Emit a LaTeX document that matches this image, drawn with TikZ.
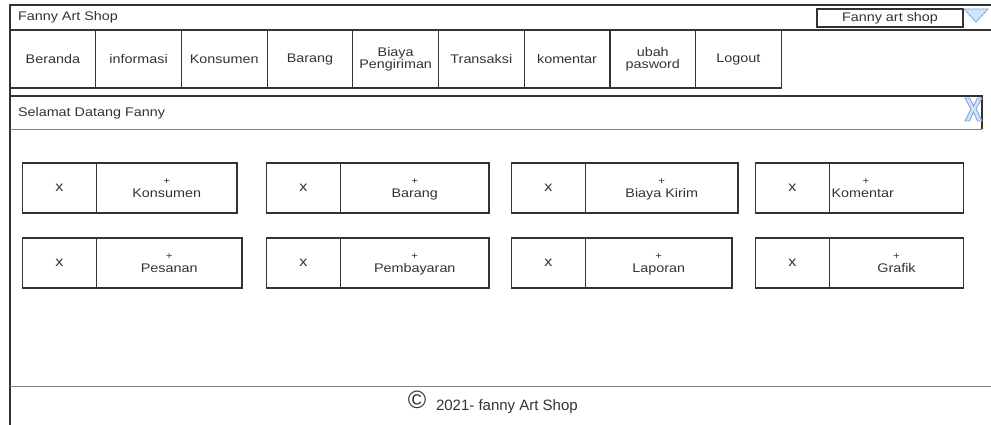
\documentclass[tikz,border=0pt]{standalone}
\usepackage{fontspec}
\setmainfont{Liberation Sans}[FakeStretch=1.15]
\newfontfamily\footfont{Liberation Sans}
\definecolor{iconfill}{HTML}{D4E4F7}
\definecolor{iconline}{HTML}{7EA6E0}

% one dashboard card: delete cell + add cell with its caption
% #1 name, #2 left x, #3 centre y, #4 width of the caption cell, #5 caption
\newcommand\uicard[5]{%
  \node[xcell, anchor=west] (#1-x) at (#2,#3) {};
  \node[xmark] (#1-m) at (#1-x.center) {x};
  \node[lcell, anchor=west, minimum width=#4pt] (#1-l) at (#1-x.east) {};
  \node[plus] (#1-p) at ([yshift=6.5pt]#1-l.center) {+};
  \node[caption] (#1-t) at ([yshift=-6.5pt]#1-l.center) {#5};
}

\begin{document}
\begin{tikzpicture}[x=1pt,y=-1pt,
  every node/.style={font=\fontsize{12.5}{12}\selectfont, text=black!80,
                     inner sep=0pt, outer sep=0pt},
  edge/.style={draw=black!80, line width=1.2pt},
  soft/.style={draw=black!50, line width=1.6pt},
  menucell/.style={edge, minimum width=85.7pt, minimum height=58pt, align=center},
  xcell/.style={edge, minimum width=74pt, minimum height=50pt},
  lcell/.style={edge, minimum height=50pt},
  xmark/.style={font=\fontsize{14}{14}\selectfont},
  plus/.style={font=\fontsize{10}{10}\selectfont},
  caption/.style={text height=9pt, text depth=2.5pt},
]
\useasboundingbox (0,0) rectangle (991,425);

% page frame and title strip
\draw[edge, line width=1.6pt] (991,5) -- (10,5) -- (10,425);
\draw[edge] (10,30) -- (991,30);
\node[anchor=west] (title) at (18,17) {Fanny Art Shop};

% shop selector
\node[edge, minimum width=146pt, minimum height=18pt] (shopbox) at (890,18) {Fanny art shop};
\draw[fill=iconfill, draw=iconline, line width=0.8pt]
  (964,9) -- (988,9) -- (976,22) -- cycle;

% menu bar
\node[menucell, anchor=west] (m1) at (10,59) {Beranda};
\node[menucell, anchor=west] (m2) at (m1.east) {informasi};
\node[menucell, anchor=west] (m3) at (m2.east) {Konsumen};
\node[menucell, anchor=west] (m4) at (m3.east) {Barang};
\node[menucell, anchor=west] (m5) at (m4.east) {Biaya\\Pengiriman};
\node[menucell, anchor=west] (m6) at (m5.east) {Transaksi};
\node[menucell, anchor=west] (m7) at (m6.east) {komentar};
\node[menucell, anchor=west] (m8) at (m7.east) {ubah\\pasword};
\node[menucell, anchor=west] (m9) at (m8.east) {Logout};

% welcome bar with close icon
\draw[edge] (10,129.5) -- (10,96) -- (982,96) -- (982,129.5);
\draw[soft] (10,129.5) -- (982,129.5);
\node[anchor=west] (welcome) at (18,113) {Selamat Datang Fanny};
\draw[fill=iconfill, draw=iconline, line width=0.9pt]
  (965,98) -- (969.5,98) -- (973.5,106) -- (977.5,98) -- (982,98) -- (976,109)
  -- (982,121) -- (977.5,121) -- (973.5,112) -- (969.5,121) -- (965,121) -- (971,109) -- cycle;

% dashboard cards, first row
\uicard{c1}{22.5}{188}{140.5}{Konsumen}
\uicard{c2}{266.5}{188}{148.5}{Barang}
\uicard{c3}{511.5}{188}{152.5}{Biaya Kirim}
\node[xcell, anchor=west] (c4-x) at (755.5,188) {};
\node[xmark] (c4-m) at (c4-x.center) {x};
\node[lcell, anchor=west, minimum width=134pt] (c4-l) at (c4-x.east) {};
\node[plus] (c4-p) at (866,181.5) {+};
\node[caption, anchor=west] (c4-t) at ([xshift=2pt, yshift=-6.5pt]c4-l.west) {Komentar};

% dashboard cards, second row
\uicard{c5}{22.5}{263}{145.5}{Pesanan}
\uicard{c6}{266.5}{263}{148.5}{Pembayaran}
\uicard{c7}{511.5}{263}{146.5}{Laporan}
\uicard{c8}{755.5}{263}{134}{Grafik}

% footer
\draw[soft] (10,386.5) -- (991,386.5);
\node[font=\footfont\fontsize{25}{25}\selectfont] (copy) at (417,400) {©};
\node[anchor=west, font=\footfont\fontsize{15}{15}\selectfont] (foot) at (436,407) {2021- fanny Art Shop};
\end{tikzpicture}
\end{document}
